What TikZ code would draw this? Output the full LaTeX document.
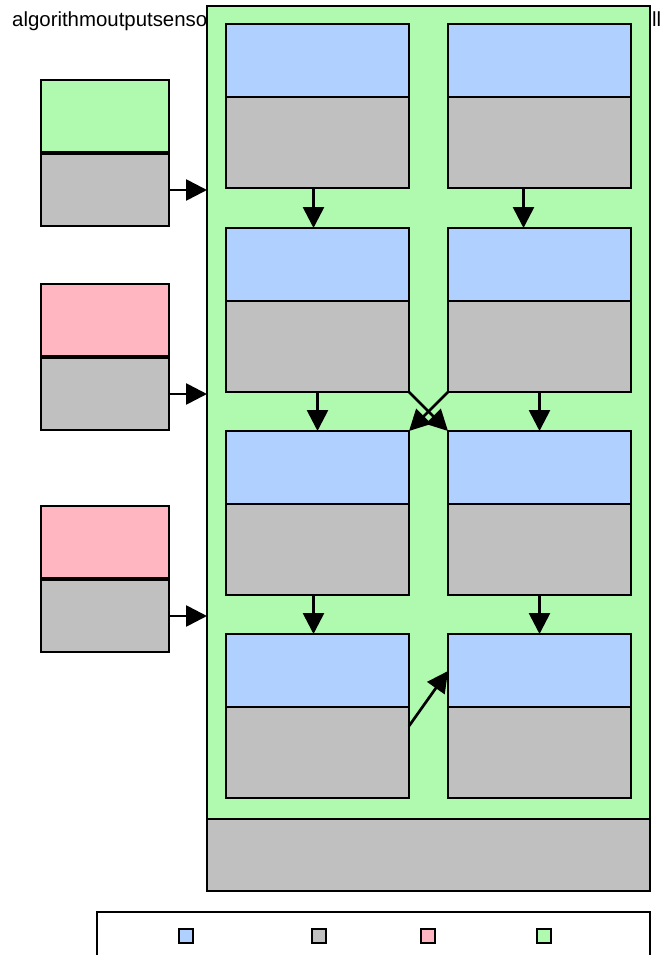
\documentclass[tikz,border=0pt]{standalone}
\usepackage{fontspec}
\setmainfont{Liberation Sans}
\usetikzlibrary{positioning, arrows.meta}
\definecolor{hdrblue}{RGB}{176,208,255}
\definecolor{bodygrey}{RGB}{191,192,191}
\definecolor{modgreen}{RGB}{176,250,176}
\definecolor{srcpink}{RGB}{255,182,193}

\begin{document}
\begin{tikzpicture}[
        x=1pt, y=1pt,
        font=\fontsize{20.4}{24}\selectfont,
        base/.style={rectangle, draw=black, line width=2.7pt, inner sep=0pt, outer sep=0pt},
        hdr/.style={base, fill=hdrblue, minimum width=183pt, minimum height=73pt},
        body/.style={base, fill=bodygrey, minimum width=183pt, minimum height=91pt},
        srchdr/.style={base, minimum width=128pt, minimum height=72pt},
        srcbody/.style={base, fill=bodygrey, minimum width=128pt, minimum height=72pt},
        key/.style={base, minimum size=14pt},
        connector/.style={-{Triangle[length=21pt, width=21pt]}, line width=2.7pt}
    ]
        \useasboundingbox (0,0) rectangle (665,-955);

        \node (title) [anchor=base west, inner sep=0pt] at (12,-27) {algorithmoutputsenso};
        \node (titletail) [anchor=base west, inner sep=0pt] at (652,-27) {ll};

        \node (module) [base, fill=modgreen, anchor=north west, minimum width=443pt, minimum height=813pt] at (207,-6) {};
        \node (modfoot) [base, fill=bodygrey, anchor=north, minimum width=443pt, minimum height=72pt] at (module.south) {};

        \node (l1h) [hdr, anchor=north west] at (226,-24) {};
        \node (l1b) [body, below=0pt of l1h] {};
        \node (r1h) [hdr, right=39pt of l1h] {};
        \node (r1b) [body, below=0pt of r1h] {};
        \node (l2h) [hdr, below=40pt of l1b] {};
        \node (l2b) [body, below=0pt of l2h] {};
        \node (r2h) [hdr, right=39pt of l2h] {};
        \node (r2b) [body, below=0pt of r2h] {};
        \node (l3h) [hdr, below=39pt of l2b] {};
        \node (l3b) [body, below=0pt of l3h] {};
        \node (r3h) [hdr, right=39pt of l3h] {};
        \node (r3b) [body, below=0pt of r3h] {};
        \node (l4h) [hdr, below=39pt of l3b] {};
        \node (l4b) [body, below=0pt of l4h] {};
        \node (r4h) [hdr, right=39pt of l4h] {};
        \node (r4b) [body, below=0pt of r4h] {};

        \node (s1h) [srchdr, fill=modgreen, anchor=north west] at (41,-80) {};
        \node (s1b) [srcbody, below=2pt of s1h] {};
        \node (s2h) [srchdr, fill=srcpink, anchor=north west] at (41,-284) {};
        \node (s2b) [srcbody, below=2pt of s2h] {};
        \node (s3h) [srchdr, fill=srcpink, anchor=north west] at (41,-506) {};
        \node (s3b) [srcbody, below=2pt of s3h] {};

        \node (legend) [base, anchor=north west, minimum width=553pt, minimum height=70pt] at (97,-912) {};
        \node (keyhdr) [key, fill=hdrblue] at (186,-936) {};
        \node (keybody) [key, fill=bodygrey] at (319,-936) {};
        \node (keysrc) [key, fill=srcpink] at (428,-936) {};
        \node (keymod) [key, fill=modgreen] at (544,-936) {};

        \draw [connector] (s1b.east) -- (s1b.east -| module.west);
        \draw [connector] (s2b.east) -- (s2b.east -| module.west);
        \draw [connector] (s3b.east) -- (s3b.east -| module.west);

        \draw [connector] ([xshift=-4pt]l1b.south) -- ([xshift=-4pt]l2h.north);
        \draw [connector] ([xshift=-16pt]r1b.south) -- ([xshift=-16pt]r2h.north);
        \draw [connector] (l2b.south) -- (l3h.north);
        \draw [connector] (r2b.south) -- (r3h.north);
        \draw [connector] (l2b.south east) -- (r3h.north west);
        \draw [connector] (r2b.south west) -- (l3h.north east);
        \draw [connector] ([xshift=-4pt]l3b.south) -- ([xshift=-4pt]l4h.north);
        \draw [connector] (r3b.south) -- (r4h.north);
        \draw [connector] ([yshift=-19pt]l4b.north east) -- ([yshift=-37pt]r4h.north west);
    \end{tikzpicture}
\end{document}
